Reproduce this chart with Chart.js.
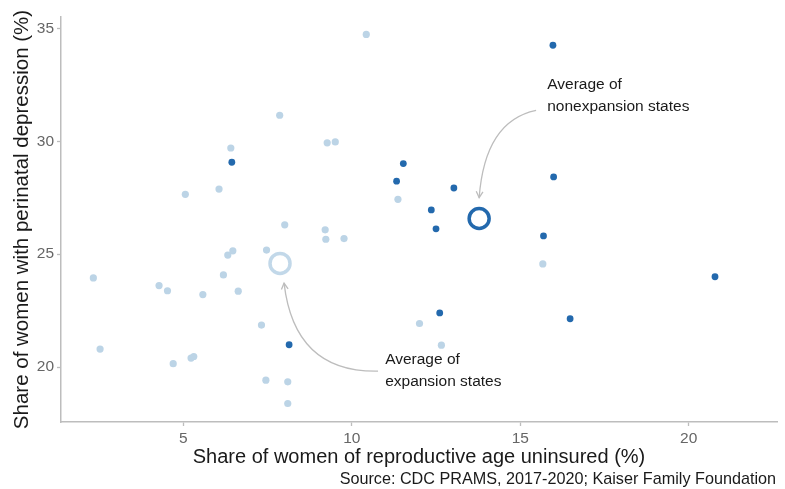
<!DOCTYPE html>
<html>
<head>
<meta charset="utf-8">
<script src="https://cdn.jsdelivr.net/npm/chart.js@4"></script>
<style>
html,body{margin:0;padding:0;background:#fff;}
#wrap{width:785px;height:489px;}
</style>
</head>
<body>
<div id="wrap"><canvas id="c" width="785" height="489"></canvas></div>
<script>
// Expansion states (light)
const expansionX = [10.43, 7.86, 6.41, 9.27, 9.51, 5.06, 6.06, 11.37, 8.01, 9.21, 9.23, 9.77, 6.32, 6.47, 7.47, 2.33, 4.28, 4.53, 6.19, 6.63, 5.58, 7.32, 2.53, 5.23, 5.31, 4.70, 7.45, 8.10, 8.10, 15.67, 12.01, 12.66];
const expansionY = [34.73, 31.15, 29.70, 29.93, 29.97, 27.65, 27.88, 27.43, 26.30, 26.08, 25.66, 25.69, 24.96, 25.15, 25.18, 23.95, 23.61, 23.38, 24.08, 23.36, 23.21, 21.86, 20.80, 20.40, 20.47, 20.15, 19.42, 19.35, 18.39, 24.57, 21.93, 20.97];
// Nonexpansion states (dark)
const nonexpansionX = [6.44, 11.33, 8.14, 15.97, 11.53, 13.03, 15.99, 12.36, 12.50, 15.69, 20.78, 12.61, 16.48];
const nonexpansionY = [29.07, 28.23, 20.99, 34.25, 29.01, 27.93, 28.42, 26.96, 26.12, 25.81, 24.00, 22.40, 22.14];
// Averages
const avgExpansion = {x: 7.87, y: 24.59};
const avgNonexpansion = {x: 13.78, y: 26.58};
// Axis ticks
const xTicks = [5, 10, 15, 20];
const yTicks = [20, 25, 30, 35];
// Annotations (data units)
const annotations = [
  {lines: ['Average of', 'nonexpansion states'], tx: 15.8, ty: 32.48, from: [15.47, 31.37], ctrl: [13.95, 30.9], to: [13.78, 27.5]},
  {lines: ['Average of', 'expansion states'], tx: 10.99, ty: 20.31, from: [10.78, 19.82], ctrl: [8.3, 19.75], to: [7.99, 23.72]}
];

const DARK = '#2369ad';
const LIGHT = '#bcd4e6';
const FONT = '"Liberation Sans", Arial, Helvetica, sans-serif';

function toPts(xs, ys){ return xs.map((x,i)=>({x:x, y:ys[i]})); }

const annotPlugin = {
  id: 'annot',
  afterDatasetsDraw(chart){
    const ctx = chart.ctx, xs = chart.scales.x, ys = chart.scales.y;
    ctx.save();
    annotations.forEach(a => {
      const fx = xs.getPixelForValue(a.from[0]), fy = ys.getPixelForValue(a.from[1]);
      const cx = xs.getPixelForValue(a.ctrl[0]), cy = ys.getPixelForValue(a.ctrl[1]);
      const tx = xs.getPixelForValue(a.to[0]), ty = ys.getPixelForValue(a.to[1]);
      ctx.strokeStyle = '#bdbdbd';
      ctx.lineWidth = 1.3;
      ctx.beginPath();
      ctx.moveTo(fx, fy);
      ctx.quadraticCurveTo(cx, cy, tx, ty);
      ctx.stroke();
      // arrowhead
      const ang = Math.atan2(ty - cy, tx - cx);
      const L = 7, spread = 0.5;
      ctx.beginPath();
      ctx.moveTo(tx - L*Math.cos(ang - spread), ty - L*Math.sin(ang - spread));
      ctx.lineTo(tx, ty);
      ctx.lineTo(tx - L*Math.cos(ang + spread), ty - L*Math.sin(ang + spread));
      ctx.stroke();
      // text
      ctx.fillStyle = '#1a1a1a';
      ctx.font = '15.5px ' + FONT;
      ctx.textAlign = 'left';
      ctx.textBaseline = 'middle';
      const px = xs.getPixelForValue(a.tx), py = ys.getPixelForValue(a.ty);
      a.lines.forEach((ln, i) => ctx.fillText(ln, px, py + i*22));
    });
    // caption
    ctx.fillStyle = '#1a1a1a';
    ctx.font = '16.2px ' + FONT;
    ctx.textAlign = 'right';
    ctx.textBaseline = 'middle';
    ctx.fillText('Source: CDC PRAMS, 2017-2020; Kaiser Family Foundation', 776, 480);
    ctx.restore();
  }
};

new Chart(document.getElementById('c'), {
  type: 'scatter',
  data: {
    datasets: [
      {label: 'Expansion', data: toPts(expansionX, expansionY), backgroundColor: LIGHT, borderWidth: 0, pointRadius: 3.6},
      {label: 'Nonexpansion', data: toPts(nonexpansionX, nonexpansionY), backgroundColor: DARK, borderWidth: 0, pointRadius: 3.4},
      {label: 'Avg expansion', data: [avgExpansion], backgroundColor: 'rgba(0,0,0,0)', borderColor: '#c2d8e9', borderWidth: 3.5, pointRadius: 10},
      {label: 'Avg nonexpansion', data: [avgNonexpansion], backgroundColor: 'rgba(0,0,0,0)', borderColor: DARK, borderWidth: 3.5, pointRadius: 10}
    ]
  },
  options: {
    responsive: false,
    animation: false,
    layout: {autoPadding: false, padding: {top: 17, right: 8, left: 0, bottom: 0}},
    plugins: {legend: {display: false}, tooltip: {enabled: false}},
    scales: {
      x: {
        type: 'linear', min: 1.37, max: 22.62,
        afterBuildTicks(s){ s.ticks = xTicks.map(v=>({value:v})); },
        afterFit(s){ s.height = 67; s.paddingLeft = 0; s.paddingRight = 0; },
        grid: {drawOnChartArea: false, drawTicks: true, tickLength: 4, tickColor: '#bdbdbd', tickWidth: 1.3},
        border: {display: true, color: '#bdbdbd', width: 1.5},
        ticks: {color: '#666666', font: {size: 15.5, family: FONT}, padding: 3, maxRotation: 0},
        title: {display: true, text: 'Share of women of reproductive age uninsured (%)', color: '#1a1a1a', font: {size: 20, family: FONT}, padding: {top: 0, bottom: 20}}
      },
      y: {
        type: 'linear', min: 17.57, max: 35.5,
        afterBuildTicks(s){ s.ticks = yTicks.map(v=>({value:v})); },
        afterFit(s){ s.width = 61; s.paddingTop = 0; s.paddingBottom = 0; },
        grid: {drawOnChartArea: false, drawTicks: true, tickLength: 4, tickColor: '#bdbdbd', tickWidth: 1.3},
        border: {display: true, color: '#bdbdbd', width: 1.5},
        ticks: {color: '#666666', font: {size: 15.5, family: FONT}, padding: 3},
        title: {display: true, text: 'Share of women with perinatal depression (%)', color: '#1a1a1a', font: {size: 20.5, family: FONT}, padding: {top: 10, bottom: 0}}
      }
    }
  },
  plugins: [annotPlugin]
});
</script>
</body>
</html>
